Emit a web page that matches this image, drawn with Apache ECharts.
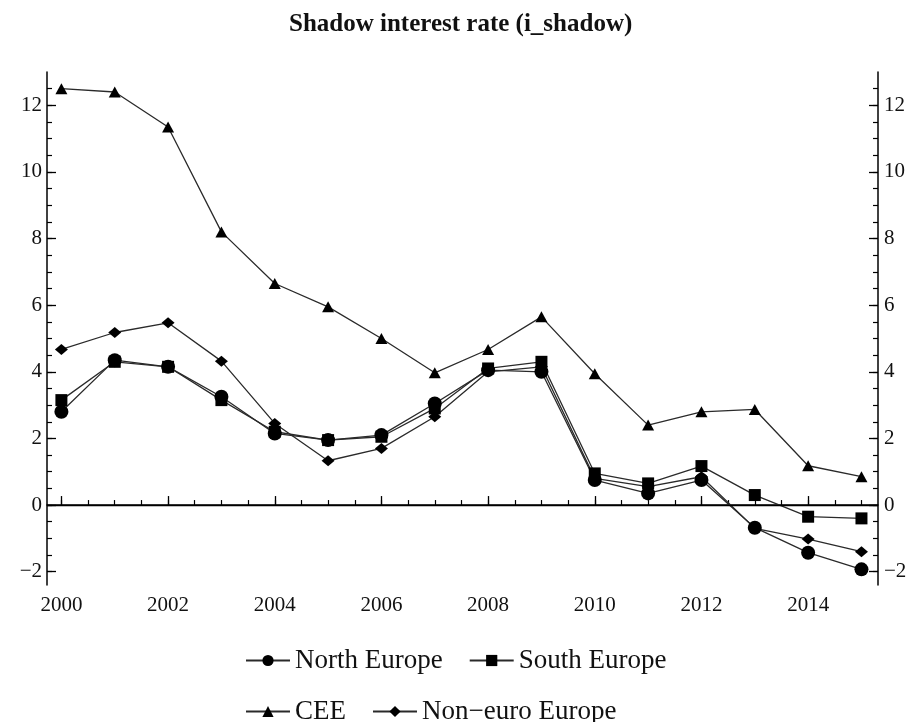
<!DOCTYPE html>
<html>
<head>
<meta charset="utf-8">
<script src="https://cdn.jsdelivr.net/npm/echarts@6/dist/echarts.min.js"></script>
<style>
  html, body { margin: 0; padding: 0; background: #fff; }
  #chart { width: 914px; height: 722px; }
</style>
</head>
<body>
<div id="chart"></div>
<script>
// years on the x axis
const years = [2000, 2001, 2002, 2003, 2004, 2005, 2006, 2007, 2008, 2009, 2010, 2011, 2012, 2013, 2014, 2015];

// shadow interest rate
const northEurope = [2.8, 4.35, 4.15, 3.25, 2.15, 1.95, 2.1, 3.05, 4.05, 4.0, 0.75, 0.35, 0.75, -0.68, -1.43, -1.93];
const southEurope = [3.15, 4.3, 4.15, 3.15, 2.2, 1.95, 2.05, 2.9, 4.1, 4.3, 0.95, 0.65, 1.17, 0.3, -0.35, -0.4];
const cee = [12.5, 12.4, 11.35, 8.2, 6.65, 5.95, 5.0, 3.97, 4.67, 5.65, 3.94, 2.4, 2.8, 2.87, 1.18, 0.85];
const nonEuro = [4.67, 5.18, 5.47, 4.32, 2.45, 1.33, 1.7, 2.65, 4.0, 4.15, 0.8, 0.55, 0.85, -0.7, -1.02, -1.4];

// tick positions
const xMajorTicks = [2000, 2002, 2004, 2006, 2008, 2010, 2012, 2014];
const xMinorTicks = [2000, 2000.5, 2001, 2001.5, 2002, 2002.5, 2003, 2003.5, 2004, 2004.5, 2005, 2005.5,
  2006, 2006.5, 2007, 2007.5, 2008, 2008.5, 2009, 2009.5, 2010, 2010.5, 2011, 2011.5, 2012, 2012.5,
  2013, 2013.5, 2014, 2014.5, 2015];
const yMajorTicks = [-2, 0, 2, 4, 6, 8, 10, 12];
const yMinorTicks = [-2, -1.5, -1, -0.5, 0, 0.5, 1, 1.5, 2, 2.5, 3, 3.5, 4, 4.5, 5, 5.5, 6, 6.5, 7, 7.5,
  8, 8.5, 9, 9.5, 10, 10.5, 11, 11.5, 12, 12.5];

const font = "'Liberation Serif', 'DejaVu Serif', serif";
const ink = "#111";
const pairs = (vals) => years.map((y, i) => [y, vals[i]]);
const minus = (v) => String(v).replace("-", "\u2212");

const xBase = { type: "value", min: 1999.73, max: 2015.31, position: "bottom", splitLine: { show: false } };
const yBase = { type: "value", min: -2.4, max: 13, splitLine: { show: false } };

function lineSeries(name, vals, symbol, size) {
  return {
    name,
    type: "line",
    data: pairs(vals),
    symbol,
    symbolSize: size,
    showSymbol: true,
    lineStyle: { color: "#2a2a2a", width: 1.3 },
    itemStyle: { color: "#000" },
    emphasis: { disabled: true },
    z: 3,
  };
}

const series = [
  lineSeries("North Europe", northEurope, "circle", 14),
  lineSeries("South Europe", southEurope, "rect", 12),
  lineSeries("CEE", cee, "triangle", [12, 11]),
  lineSeries("Non\u2212euro Europe", nonEuro, "diamond", [13, 11]),
];
series[0].markLine = {
  silent: true,
  symbol: "none",
  label: { show: false },
  lineStyle: { color: "#000", width: 1.3, type: "solid" },
  data: [{ yAxis: 0 }],
};

const legendText = { fontFamily: font, fontSize: 27, color: ink };

const chart = echarts.init(document.getElementById("chart"), null, { renderer: "canvas" });
chart.setOption({
  animation: false,
  backgroundColor: "#fff",
  title: {
    text: "Shadow interest rate (i_shadow)",
    left: 284,
    top: 7,
    textStyle: { fontFamily: font, fontWeight: "bold", fontSize: 25, color: ink },
  },
  grid: { left: 47, right: 36, top: 72, bottom: 137, outerBoundsMode: "none" },
  legend: [
    {
      data: ["North Europe", "South Europe"],
      left: 240,
      top: 642,
      itemWidth: 44,
      itemHeight: 14,
      itemGap: 26,
      textStyle: legendText,
    },
    {
      data: ["CEE", "Non\u2212euro Europe"],
      left: 240,
      top: 693,
      itemWidth: 44,
      itemHeight: 14,
      itemGap: 26,
      textStyle: legendText,
    },
  ],
  xAxis: [
    {
      ...xBase,
      axisLine: { show: true, lineStyle: { color: "#000", width: 1.5 } },
      axisTick: { show: true, inside: true, length: 9, customValues: xMajorTicks, lineStyle: { color: "#000", width: 1.3 } },
      axisLabel: { customValues: xMajorTicks, margin: 10, fontFamily: font, fontSize: 21, color: ink, formatter: (v) => String(v) },
    },
    {
      ...xBase,
      axisLine: { show: false },
      axisTick: { show: true, inside: true, length: 5, customValues: xMinorTicks, lineStyle: { color: "#000", width: 1.2 } },
      axisLabel: { show: false },
    },
  ],
  yAxis: [
    {
      ...yBase,
      position: "left",
      axisLine: { show: true, lineStyle: { color: "#000", width: 1.5 } },
      axisTick: { show: true, inside: true, length: 9, customValues: yMajorTicks, lineStyle: { color: "#000", width: 1.3 } },
      axisLabel: { customValues: yMajorTicks, margin: 5, fontFamily: font, fontSize: 21, color: ink, formatter: minus },
    },
    {
      ...yBase,
      position: "left",
      axisLine: { show: false },
      axisTick: { show: true, inside: true, length: 5, customValues: yMinorTicks, lineStyle: { color: "#000", width: 1.2 } },
      axisLabel: { show: false },
    },
    {
      ...yBase,
      position: "right",
      axisLine: { show: true, lineStyle: { color: "#000", width: 1.5 } },
      axisTick: { show: true, inside: true, length: 9, customValues: yMajorTicks, lineStyle: { color: "#000", width: 1.3 } },
      axisLabel: { customValues: yMajorTicks, margin: 6, fontFamily: font, fontSize: 21, color: ink, formatter: minus },
    },
    {
      ...yBase,
      position: "right",
      axisLine: { show: false },
      axisTick: { show: true, inside: true, length: 5, customValues: yMinorTicks, lineStyle: { color: "#000", width: 1.2 } },
      axisLabel: { show: false },
    },
  ],
  series,
});
</script>
</body>
</html>
